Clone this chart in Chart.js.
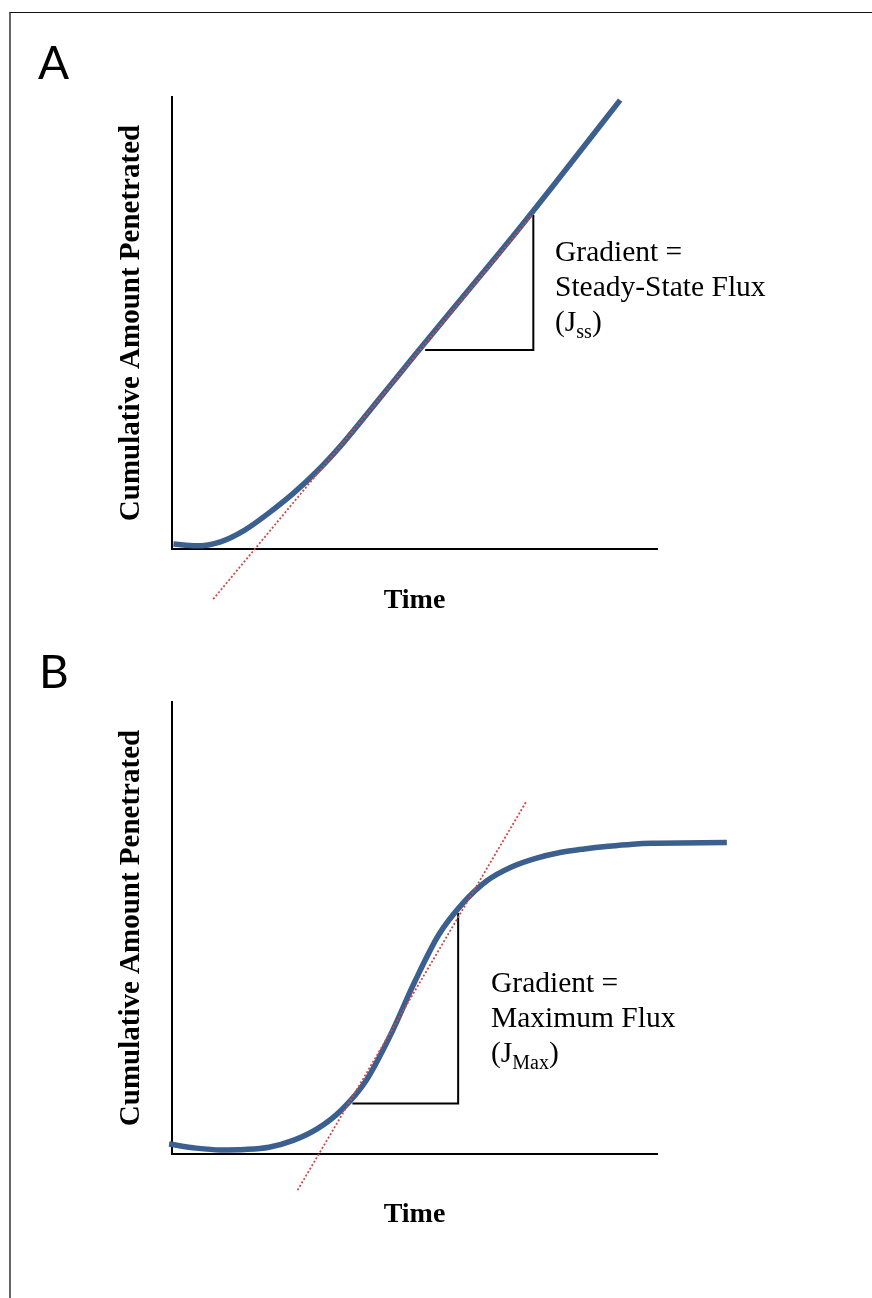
<!DOCTYPE html>
<html>
<head>
<meta charset="utf-8">
<title>Cumulative amount penetrated over time</title>
<script src="https://cdn.jsdelivr.net/npm/chart.js@4/dist/chart.umd.min.js"></script>
<style>
  html, body { margin: 0; padding: 0; background: #fff; }
  body { width: 872px; height: 1298px; position: relative; overflow: hidden; }
  .frame { position: absolute; left: 9px; top: 12px; width: 863px; height: 1286px;
           border-top: 1px solid #111; border-left: 2px solid #666; box-sizing: border-box; }
  canvas { position: absolute; left: 0; }
  #chartA { top: 0; }
  #chartB { top: 640px; }
  .panel { position: absolute; font-family: Lato, "Liberation Sans", sans-serif; font-size: 46px;
           line-height: 46px; color: #000; }
  .note { position: absolute; font-family: "Liberation Serif", "Times New Roman", serif; font-size: 29.5px;
          line-height: 35px; color: #000; white-space: nowrap; }
  .note .sub { font-size: 20px; position: relative; top: 7px; line-height: 0; }
</style>
</head>
<body>
<div class="frame"></div>
<canvas id="chartA" width="872" height="640"></canvas>
<canvas id="chartB" width="872" height="620"></canvas>
<div class="panel" style="left:38px; top:39px;">A</div>
<div class="panel" style="left:39px; top:648px;">B</div>
<div class="note" style="left:555px; top:234px;">Gradient =<br>Steady-State Flux<br>(J<span class="sub">ss</span>)</div>
<div class="note" style="left:491px; top:965px;">Gradient =<br>Maximum Flux<br>(J<span class="sub">Max</span>)</div>

<script>
// Panel A: lag phase followed by steady-state permeation
const timeA   = [0.03, 0.5, 1.0, 1.5, 2.0, 2.5, 3.0, 3.5, 4.0, 4.5, 5.0, 6.0, 7.0, 8.0, 9.24];
const amountA = [0.11, 0.07, 0.16, 0.42, 0.80, 1.23, 1.73, 2.31, 2.96, 3.62, 4.28, 5.58, 6.88, 8.23, 9.93];
const tangentA = [[0.85, -1.11], [7.44, 7.41]];
const triangleA = [[5.22, 4.40], [7.45, 4.40], [7.45, 7.39]];

// Panel B: sigmoidal uptake reaching a plateau (finite dose)
const timeB   = [-0.06, 0.5, 1.0, 1.5, 2.0, 2.5, 3.0, 3.5, 4.0, 4.5, 5.0, 5.5, 6.0, 6.5, 7.0, 7.5, 8.0, 8.5, 9.0, 9.5, 9.9, 11.44];
const amountB = [0.22, 0.13, 0.09, 0.10, 0.15, 0.30, 0.56, 0.98, 1.62, 2.62, 3.80, 4.85, 5.55, 6.05, 6.35, 6.54, 6.67, 6.75, 6.81, 6.855, 6.875, 6.89];
const tangentB = [[2.59, -0.80], [7.30, 7.79]];
const triangleB = [[3.72, 1.12], [5.90, 1.12], [5.90, 5.33]];

const xTitle = 'Time';
const yTitle = 'Cumulative Amount Penetrated';

const CURVE_COLOR = '#3b5f8e';
const TANGENT_COLOR = '#cf4a47';

const toXY = (xs, ys) => xs.map((x, i) => ({ x: x, y: ys[i] }));
const pairsToXY = (pairs) => pairs.map(p => ({ x: p[0], y: p[1] }));

function buildChart(canvasId, curve, tangent, triangle, geom) {
  const serif = '"Liberation Serif", "Times New Roman", serif';
  return new Chart(document.getElementById(canvasId), {
    type: 'line',
    data: {
      datasets: [
        { // tangent drawn on top
          data: pairsToXY(tangent),
          borderColor: TANGENT_COLOR, borderWidth: 1.8, borderDash: [2, 2],
          pointRadius: 0, tension: 0, clip: false
        },
        {
          data: curve,
          borderColor: CURVE_COLOR, borderWidth: 5.5, borderCapStyle: 'butt',
          pointRadius: 0, cubicInterpolationMode: 'monotone', clip: false
        },
        {
          data: pairsToXY(triangle),
          borderColor: '#000', borderWidth: 2, borderJoinStyle: 'miter',
          pointRadius: 0, tension: 0, clip: false
        }
      ]
    },
    options: {
      responsive: false,
      animation: false,
      devicePixelRatio: 1,
      events: [],
      layout: { autoPadding: false, padding: { top: geom.top, right: 215, left: 0, bottom: 0 } },
      plugins: { legend: { display: false }, tooltip: { enabled: false }, title: { display: false } },
      scales: {
        x: {
          type: 'linear', min: 0, max: 10,
          grid: { display: false, drawTicks: false },
          ticks: { display: false },
          border: { display: true, color: '#000', width: 2 },
          title: { display: true, text: xTitle, color: '#000',
                   font: { family: serif, size: 28, weight: 'bold' },
                   padding: { top: 0, bottom: geom.xTitlePad } },
          afterFit: (scale) => { scale.height = geom.xHeight; }
        },
        y: {
          type: 'linear', min: 0, max: 10,
          grid: { display: false, drawTicks: false },
          ticks: { display: false },
          border: { display: true, color: '#000', width: 2 },
          title: { display: true, text: yTitle, color: '#000',
                   font: { family: serif, size: 29, weight: 'bold' },
                   padding: { top: 114, bottom: 0 } },
          afterFit: (scale) => { scale.width = 172; }
        }
      }
    }
  });
}

buildChart('chartA', toXY(timeA, amountA), tangentA, triangleA, { top: 97, xHeight: 91, xTitlePad: 22 });
buildChart('chartB', toXY(timeB, amountB), tangentB, triangleB, { top: 62, xHeight: 106, xTitlePad: 28 });
</script>
</body>
</html>
